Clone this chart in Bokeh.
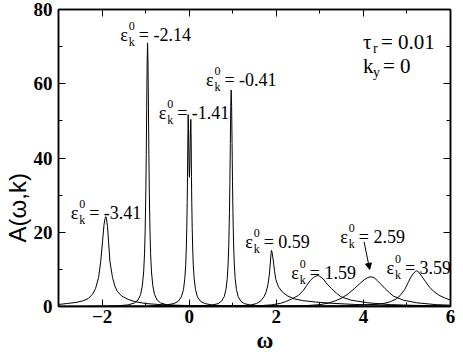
from bokeh.plotting import figure
from bokeh.models import (ColumnDataSource, FixedTicker, LinearAxis, Arrow,
                          NormalHead, Range1d, Title)
from bokeh.core.properties import value
from bokeh.embed import file_html
from bokeh.resources import INLINE

# ---- data ----
eps = ["-3.41", "-2.14", "-1.41", "-0.41", "0.59", "1.59", "2.59", "3.59"]

w1 = [-3.0, -2.8, -2.6, -2.45, -2.32, -2.22, -2.15, -2.08, -2.03, -1.99, -1.955, -1.93, -1.915,
      -1.90, -1.875, -1.85, -1.82, -1.76, -1.70, -1.65, -1.55, -1.40, -1.24, -1.0, -0.6, 0.0, 1.0, 3.0, 6.0]
a1 = [0.55, 0.8, 1.1, 1.5, 2.1, 3.3, 4.8, 7.8, 12.2, 17.4, 22.0, 23.8, 24.2,
      23.8, 21.5, 17.4, 12.2, 7.8, 5.3, 4.1, 2.8, 1.9, 1.3, 0.8, 0.45, 0.25, 0.12, 0.05, 0.02]

w2 = [-3.0, -1.955, -1.655, -1.405, -1.255, -1.175, -1.115, -1.075, -1.045, -1.025, -1.01, -0.995,
      -0.985, -0.975, -0.965, -0.955, -0.945, -0.935, -0.925, -0.915, -0.9, -0.885, -0.865, -0.835,
      -0.795, -0.735, -0.655, -0.505, -0.255, 0.045, 1.045, 6.0]
a2 = [0.02, 0.09, 0.18, 0.43, 0.95, 1.75, 3.24, 5.6, 9.3, 14.2, 20.5, 30.8,
      40.9, 53.5, 65.6, 71.0, 65.6, 53.5, 40.9, 30.8, 20.5, 14.2, 9.3, 5.6,
      3.24, 1.75, 0.95, 0.43, 0.18, 0.09, 0.03, 0.01]

w3 = [-3.0, -1.0, -0.5, -0.35, -0.25, -0.18, -0.13, -0.10, -0.08, -0.065, -0.055, -0.045, -0.038,
      -0.03, -0.023, -0.015, -0.005, 0.005, 0.015, 0.028, 0.038, 0.046, 0.053, 0.06, 0.07, 0.08,
      0.095, 0.115, 0.145, 0.19, 0.26, 0.36, 0.5, 0.75, 1.1, 2.0, 6.0]
a3 = [0.01, 0.1, 0.45, 0.8, 1.4, 2.6, 4.6, 7.5, 11.0, 16.0, 21.0, 28.0, 35.0,
      45.0, 51.7, 48.0, 39.0, 34.8, 38.0, 47.0, 50.4, 45.0, 35.0, 28.0, 21.0, 16.0,
      11.0, 7.5, 4.6, 2.6, 1.4, 0.8, 0.45, 0.2, 0.1, 0.03, 0.005]

w4 = [-3.0, -1.0, 0.0, 0.265, 0.515, 0.665, 0.745, 0.805, 0.845, 0.875, 0.895, 0.91, 0.925, 0.935,
      0.945, 0.955, 0.965, 0.975, 0.985, 0.995, 1.005, 1.02, 1.035, 1.055, 1.085, 1.125, 1.185,
      1.265, 1.415, 1.665, 1.965, 3.0, 6.0]
a4 = [0.01, 0.02, 0.08, 0.145, 0.35, 0.78, 1.44, 2.66, 4.6, 7.6, 11.7, 16.8, 25.3, 33.6,
      43.9, 53.9, 58.3, 53.9, 43.9, 33.6, 25.3, 16.8, 11.7, 7.6, 4.6, 2.66, 1.44,
      0.78, 0.35, 0.145, 0.07, 0.02, 0.01]

w5 = [-3.0, 0.0, 0.8, 1.2, 1.4, 1.55, 1.65, 1.72, 1.77, 1.81, 1.84, 1.865, 1.88, 1.89, 1.90, 1.93,
      1.96, 1.99, 2.05, 2.14, 2.25, 2.4, 2.6, 2.9, 3.3, 3.8, 4.4, 5.0, 6.0]
a5 = [0.01, 0.03, 0.08, 0.15, 0.35, 0.8, 1.6, 2.7, 4.0, 6.0, 8.5, 12.0, 14.3, 15.1, 14.8, 12.5,
      9.5, 7.3, 5.3, 3.9, 2.9, 2.1, 1.6, 1.2, 0.85, 0.55, 0.35, 0.22, 0.1]

w6 = [-3.0, 1.0, 1.6, 1.9, 2.1, 2.21, 2.35, 2.51, 2.62, 2.70, 2.78, 2.85, 2.91, 2.95, 2.99, 3.08,
      3.17, 3.27, 3.38, 3.49, 3.72, 4.10, 4.62, 5.2, 6.0]
a6 = [0.01, 0.05, 0.2, 0.45, 0.85, 1.3, 2.0, 3.0, 4.3, 5.7, 7.0, 7.8, 8.2, 8.3, 8.2, 7.4,
      6.0, 4.8, 3.6, 2.6, 1.7, 1.0, 0.5, 0.3, 0.15]

w7 = [-3.0, 2.0, 2.7, 3.0, 3.19, 3.35, 3.49, 3.65, 3.79, 3.92, 4.02, 4.10, 4.17, 4.24, 4.32, 4.41,
      4.50, 4.60, 4.69, 4.92, 5.22, 5.67, 6.0]
a7 = [0.01, 0.05, 0.25, 0.5, 0.9, 1.5, 2.2, 3.4, 4.8, 6.2, 7.2, 7.8, 8.0, 7.8, 7.0, 5.9,
      4.8, 3.7, 2.8, 1.7, 1.0, 0.5, 0.35]

w8 = [-3.0, 3.0, 3.72, 4.0, 4.32, 4.5, 4.62, 4.75, 4.84, 4.95, 5.03, 5.09, 5.14, 5.19, 5.22, 5.26,
      5.33, 5.42, 5.52, 5.62, 5.74, 5.87, 6.0]
a8 = [0.01, 0.15, 0.25, 0.4, 0.6, 0.9, 1.3, 2.0, 2.9, 4.6, 6.5, 7.9, 8.8, 9.4, 9.6, 9.4,
      8.3, 6.8, 5.2, 4.0, 3.0, 2.3, 1.7]

x_major = [-2, 0, 2, 4, 6]
x_minor = [-3, -1, 1, 3, 5]
y_major = [0, 20, 40, 60, 80]
y_minor = [10, 30, 50, 70]

tau_r = "0.01"
k_y = "0"

SERIF = "'Liberation Serif', 'Times New Roman', serif"
SANS = "'Liberation Sans', Arial, sans-serif"

# ---- figure ----
p = figure(width=455, height=352, output_backend="svg", toolbar_location=None,
           x_range=Range1d(-3, 6), y_range=Range1d(0, 80),
           min_border_left=58, min_border_right=5, min_border_top=9, min_border_bottom=44)
p.xgrid.visible = False
p.ygrid.visible = False
p.background_fill_color = "white"
p.outline_line_color = "black"
p.outline_line_width = 1.5

xt = FixedTicker(ticks=x_major, minor_ticks=x_minor)
yt = FixedTicker(ticks=y_major, minor_ticks=y_minor)

def style_axis(ax, ticker, ticks, labels=True):
    ax.ticker = ticker
    ax.axis_line_color = "black"
    ax.axis_line_width = 1.5
    ax.major_tick_in = 7
    ax.major_tick_out = 0
    ax.minor_tick_in = 4
    ax.minor_tick_out = 0
    ax.major_tick_line_color = "black"
    ax.minor_tick_line_color = "black"
    ax.major_tick_line_width = 1
    ax.minor_tick_line_width = 1
    if labels:
        ax.major_label_text_font = SERIF
        ax.major_label_text_font_style = "bold"
        ax.major_label_text_font_size = "19px"
        ax.major_label_text_color = "black"
    else:
        ax.major_label_overrides = {t: "" for t in ticks}
        ax.major_label_text_font_size = "2px"
        ax.major_label_standoff = 0

style_axis(p.xaxis[0], xt, x_major)
style_axis(p.yaxis[0], yt, y_major)
p.xaxis[0].major_label_standoff = 3
p.yaxis[0].major_label_standoff = 6

top = LinearAxis()
style_axis(top, xt, x_major, labels=False)
p.add_layout(top, "above")
right = LinearAxis()
style_axis(right, yt, y_major, labels=False)
p.add_layout(right, "right")

for w, a in [(w1, a1), (w2, a2), (w3, a3), (w4, a4), (w5, a5), (w6, a6), (w7, a7), (w8, a8)]:
    p.line(w, a, line_color="black", line_width=1)

# axis titles
p.add_layout(Title(text="A(ω,k)", align="left", offset=64, standoff=0,
                   text_font=SANS, text_font_style="normal", text_font_size="24px",
                   text_color="black"), "left")
p.add_layout(Title(text="ω", align="left", offset=198, standoff=0,
                   text_font=SERIF, text_font_style="bold", text_font_size="23px",
                   text_color="black"), "below")

# ---- annotations ----
lab_x = [-2.72, -1.58, -0.70, 0.385, 1.285, 2.345, 3.47, 4.53]
lab_y = [25.3, 73.0, 52.2, 60.9, 17.5, 9.1, 18.65, 10.4]

tx, ty, tt, txo, tyo, tfs = [], [], [], [], [], []
def piece(x, y, t, xo, yo, fs):
    tx.append(x); ty.append(y); tt.append(t); txo.append(xo); tyo.append(yo); tfs.append(fs)

for x, y, e in zip(lab_x, lab_y, eps):
    piece(x, y, "ε", 0, 0, "18px")
    piece(x, y, "0", 8.5, -9, "12px")
    piece(x, y, "k", 8.5, 7, "12px")
    piece(x, y, "= " + e, 18.5, 0, "18px")

piece(3.99, 71.3, "τ", 0, 0, "21px")
piece(3.99, 71.3, "r", 10, 7, "14px")
piece(3.99, 71.3, "= " + tau_r, 18, 0, "21px")
piece(3.99, 64.8, "k", 0, 0, "21px")
piece(3.99, 64.8, "y", 10, 7, "14px")
piece(3.99, 64.8, "= " + k_y, 20, 0, "21px")

src = ColumnDataSource(dict(x=tx, y=ty, text=tt, xo=txo, yo=tyo, fs=tfs))
p.text(x="x", y="y", text="text", x_offset="xo", y_offset="yo", text_font_size="fs",
       source=src, text_font=value(SERIF), text_color="black",
       text_baseline="alphabetic", text_align="left")

p.add_layout(Arrow(end=NormalHead(size=6, fill_color="black", line_color="black", line_width=1),
                   x_start=4.016, y_start=17.4, x_end=4.144, y_end=10.0,
                   line_color="black", line_width=1))

open("out.html", "w").write(file_html(p, INLINE))
